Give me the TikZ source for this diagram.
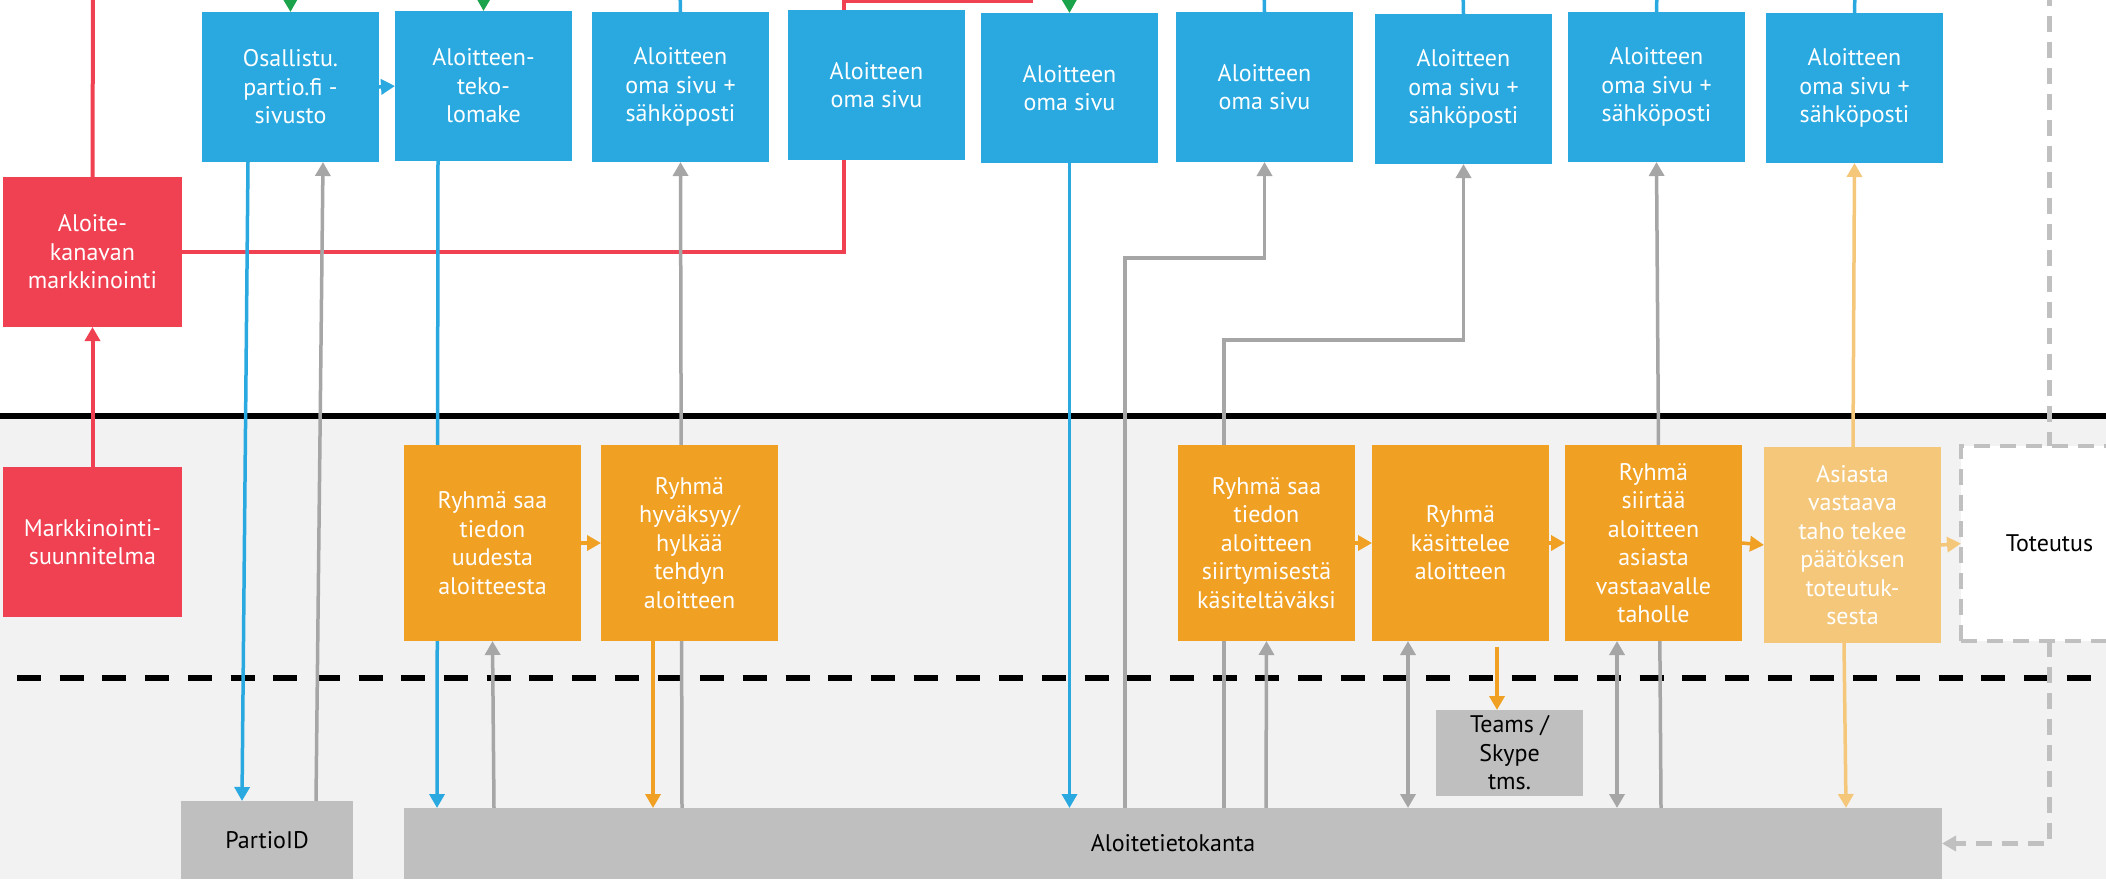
\documentclass[tikz,border=0pt]{standalone}
\usepackage{fontspec}
\setmainfont{PT Sans}
\usetikzlibrary{arrows.meta}

\definecolor{webblue}{HTML}{29A9E0}
\definecolor{alertred}{HTML}{EF4152}
\definecolor{procorange}{HTML}{F0A022}
\definecolor{lightorange}{HTML}{F4C77A}
\definecolor{dbgray}{HTML}{BFBFBF}
\definecolor{wiregray}{HTML}{A6A6A6}
\definecolor{dashgray}{HTML}{C0C0C0}
\definecolor{lanegray}{HTML}{F2F2F2}
\definecolor{okgreen}{HTML}{1BA34B}

\pgfdeclarelayer{back}
\pgfsetlayers{back,main}

\newcommand\labelfont{\fontsize{24}{28.5}\selectfont}

\begin{document}
\begin{tikzpicture}[x=1pt, y=-1pt,
  box/.style={rectangle, anchor=north west, inner sep=0pt, outer sep=0pt,
    align=center, font=\labelfont, minimum width=177pt},
  web/.style={box, fill=webblue, text=white, minimum height=150pt},
  mkt/.style={box, fill=alertred, text=white, minimum width=179pt, minimum height=150pt},
  task/.style={box, fill=procorange, text=white, minimum height=196pt},
  decision/.style={box, fill=lightorange, text=white, minimum height=196pt},
  store/.style={box, fill=dbgray, text=black},
  headed/.style={-{Triangle[length=14pt,width=15pt]}},
  twoheaded/.style={{Triangle[length=14pt,width=15pt]}-{Triangle[length=14pt,width=15pt]}},
  wire/.style={line width=3.5pt},
  redwire/.style={wire, draw=alertred, line width=4pt},
  bluewire/.style={wire, draw=webblue},
  greenwire/.style={wire, draw=okgreen},
  graywire/.style={wire, draw=wiregray},
  orangewire/.style={wire, draw=procorange},
  lightwire/.style={wire, draw=lightorange},
  dashwire/.style={draw=dashgray, line width=4.5pt, dash pattern=on 16pt off 10pt},
]
\useasboundingbox (0,0) rectangle (2106,879);

% upper lane: web pages
\node[web] (site)  at (202,12)  {Osallistu.\\partio.fi -\\sivusto};
\node[web] (form)  at (395,11)  {Aloitteen-\\teko-\\lomake};
\node[web] (page1) at (592,12)  {Aloitteen\\oma sivu +\\sähköposti};
\node[web] (page2) at (788,10)  {Aloitteen\\oma sivu};
\node[web] (page3) at (981,13)  {Aloitteen\\oma sivu};
\node[web] (page4) at (1176,12) {Aloitteen\\oma sivu};
\node[web] (page5) at (1375,14) {Aloitteen\\oma sivu +\\sähköposti};
\node[web] (page6) at (1568,12) {Aloitteen\\oma sivu +\\sähköposti};
\node[web] (page7) at (1766,13) {Aloitteen\\oma sivu +\\sähköposti};

% marketing
\node[mkt] (channel) at (3,177) {Aloite-\\kanavan\\markkinointi};
\node[mkt] (plan)    at (3,467) {Markkinointi-\\suunnitelma};

% lower lane: group work
\node[task] (notified) at (404,445)  {Ryhmä saa\\tiedon\\uudesta\\aloitteesta};
\node[task] (review)   at (601,445)  {Ryhmä\\hyväksyy/\\hylkää\\tehdyn\\aloitteen};
\node[task] (transfer) at (1178,445) {Ryhmä saa\\tiedon\\aloitteen\\siirtymisestä\\käsiteltäväksi};
\node[task] (handle)   at (1372,445) {Ryhmä\\käsittelee\\aloitteen};
\node[task] (forward)  at (1565,445) {Ryhmä\\siirtää\\aloitteen\\asiasta\\vastaavalle\\taholle};
\node[decision] (decide) at (1764,447) {Asiasta\\vastaava\\taho tekee\\päätöksen\\toteutuk-\\sesta};
\node[box, fill=white, text=black, minimum height=195pt, draw=dashgray,
      line width=4.5pt, dash pattern=on 16pt off 10pt] (done) at (1961,446) {Toteutus};

% systems
\node[store, minimum width=147pt, minimum height=86pt] (teams) at (1436,710) {Teams /\\Skype\\tms.};
\node[store, minimum width=172pt, minimum height=78pt] (pid) at (181,801) {PartioID};
\node[store, minimum width=1538pt, minimum height=71pt] (db) at (404,808) {Aloitetietokanta};

% loose ends leaving the picture
\coordinate (redup)   at (93,-10);
\coordinate (redtop)  at (1031,1);
\coordinate (redout)  at (1031,-10);
\coordinate (green1)  at (290,-30);
\coordinate (green2)  at (484,-30);
\coordinate (green3)  at (1069,-30);
\coordinate (feed1)   at (680,-10);
\coordinate (feed4)   at (1264,-10);
\coordinate (feed5)   at (1463,-10);
\coordinate (feed6)   at (1657,-10);
\coordinate (feed7)   at (1855,-10);
\coordinate (implin)  at (2049.5,-10);

\begin{pgfonlayer}{back}
  \clip (0,0) rectangle (2106,879);
  \fill[white] (0,0) rectangle (2106,416);
  \fill[lanegray] (0,416) rectangle (2106,879);
  \draw[line width=6pt] (0,416) -- (2106,416);
  \draw[line width=6pt, dash pattern=on 24pt off 18.7pt] (17,678) -- (2106,678);

  % marketing
  \draw[redwire] (channel.north) -- (redup);
  \draw[redwire, headed] (plan.north) -- (channel.south);
  \draw[redwire] (channel.east) -| ([xshift=56pt]page2.south west);
  \draw[redwire] ([xshift=56pt]page2.north west) |- (redtop) -- (redout);

  % incoming links from above
  \draw[greenwire, headed] (green1) -- (site.north);
  \draw[greenwire, headed] (green2) -- (form.north);
  \draw[greenwire, headed] (green3) -- (page3.north);
  \draw[bluewire] (feed1) -- (page1.north);
  \draw[bluewire] (feed4) -- (page4.north);
  \draw[bluewire] (feed5) -- (page5.north);
  \draw[bluewire] (feed6) -- (page6.north);
  \draw[bluewire] (feed7) -- (page7.north);

  % web site and login
  \draw[bluewire, headed] ([xshift=46pt]site.south west) -- ([xshift=61pt]pid.north west);
  \draw[graywire, headed] ([xshift=135pt]pid.north west) -- ([xshift=121pt]site.south west);
  \draw[bluewire, headed] (site.east) -- (form.west);
  \draw[bluewire, headed] ([xshift=43pt]form.south west) -- ([xshift=33pt]db.north west);

  % new initiative
  \draw[graywire, headed] ([xshift=90pt]db.north west) -- (notified.south);
  \draw[orangewire, headed] (notified.east) -- (review.west);
  \draw[orangewire, headed] ([xshift=52pt]review.south west) -- ([xshift=249pt]db.north west);
  \draw[graywire, headed] ([xshift=278pt]db.north west) -- (page1.south);

  % publishing
  \draw[bluewire, headed] (page3.south) -- (page3.south |- db.north);
  \draw[graywire, headed] ([xshift=721pt]db.north west) |- ([yshift=-96pt]page4.south) -- (page4.south);
  \draw[graywire, headed] ([xshift=820pt]db.north west) |- ([yshift=-176pt]page5.south) -- (page5.south);

  % processing
  \draw[graywire, headed] ([xshift=862pt]db.north west) -- (transfer.south);
  \draw[orangewire, headed] (transfer.east) -- (handle.west);
  \draw[graywire, twoheaded] ([xshift=36pt]handle.south west) -- ([xshift=1004pt]db.north west);
  \draw[orangewire, headed, shorten <=6pt] ([xshift=125pt]handle.south west) -- ([xshift=61pt]teams.north west);
  \draw[orangewire, headed] (handle.east) -- (forward.west);
  \draw[graywire, twoheaded] ([xshift=52pt]forward.south west) -- ([xshift=1213pt]db.north west);
  \draw[graywire, headed] ([xshift=1257pt]db.north west) -- (page6.south);
  \draw[orangewire, headed] (forward.east) -- (decide.west);
  \draw[lightwire, headed] ([xshift=80pt]decide.south west) -- ([xshift=1442pt]db.north west);
  \draw[lightwire, headed] ([xshift=89pt]decide.north west) -- (page7.south);
  \draw[lightwire, headed] (decide.east) -- (done.west);

  % implementation
  \draw[dashwire] (implin) -- (done.north);
  \draw[dashwire, headed] (done.south) |- (db.east);
\end{pgfonlayer}
\end{tikzpicture}
\end{document}
